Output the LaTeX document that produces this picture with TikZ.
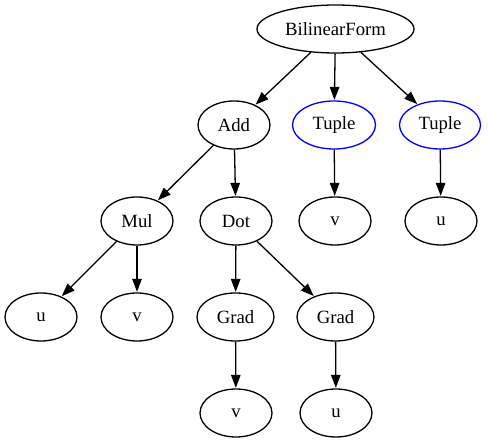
\documentclass[tikz,border=0pt]{standalone}
\usepackage{fontspec}
\setmainfont{Liberation Serif}
\usetikzlibrary{shapes.geometric,arrows.meta}
\begin{document}
\begin{tikzpicture}[x=1pt,y=-1pt,
  nd/.style={ellipse,draw,line width=1.3pt,inner sep=0pt,minimum width=72pt,minimum height=48pt,font=\fontsize{18.7}{20}\selectfont},
  bl/.style={nd,draw=blue},
  ed/.style={line width=1.3pt,-{Triangle[length=13pt,width=9.5pt]},shorten >=0.5pt}]
\useasboundingbox (0,0) rectangle (488,443);
\node[nd,minimum width=157pt] (bf) at (335.5,29) {BilinearForm};
\node[nd] (add) at (234,125) {Add};
\node[bl,minimum width=83pt] (t1) at (334,125) {Tuple};
\node[bl,minimum width=81pt] (t2) at (440,125) {Tuple};
\node[nd] (mul) at (137,221) {Mul};
\node[nd] (dot) at (236,221) {Dot};
\node[nd] (v1) at (335,221) {v};
\node[nd] (u1) at (441,221) {u};
\node[nd] (u2) at (41,317) {u};
\node[nd] (v2) at (137,317) {v};
\node[nd,minimum width=77pt] (g1) at (235.5,317) {Grad};
\node[nd,minimum width=77pt] (g2) at (335.5,317) {Grad};
\node[nd] (v3) at (236,413) {v};
\node[nd] (u3) at (336,413) {u};
\draw[ed] (bf) -- (add);
\draw[ed] (bf) -- (t1);
\draw[ed] (bf) -- (t2);
\draw[ed] (add) -- (mul);
\draw[ed] (add) -- (dot);
\draw[ed] (t1) -- (v1);
\draw[ed] (t2) -- (u1);
\draw[ed] (mul) -- (u2);
\draw[ed] (mul) -- (v2);
\draw[ed] (dot) -- (g1);
\draw[ed] (dot) -- (g2);
\draw[ed] (g1) -- (v3);
\draw[ed] (g2) -- (u3);
\end{tikzpicture}
\end{document}
